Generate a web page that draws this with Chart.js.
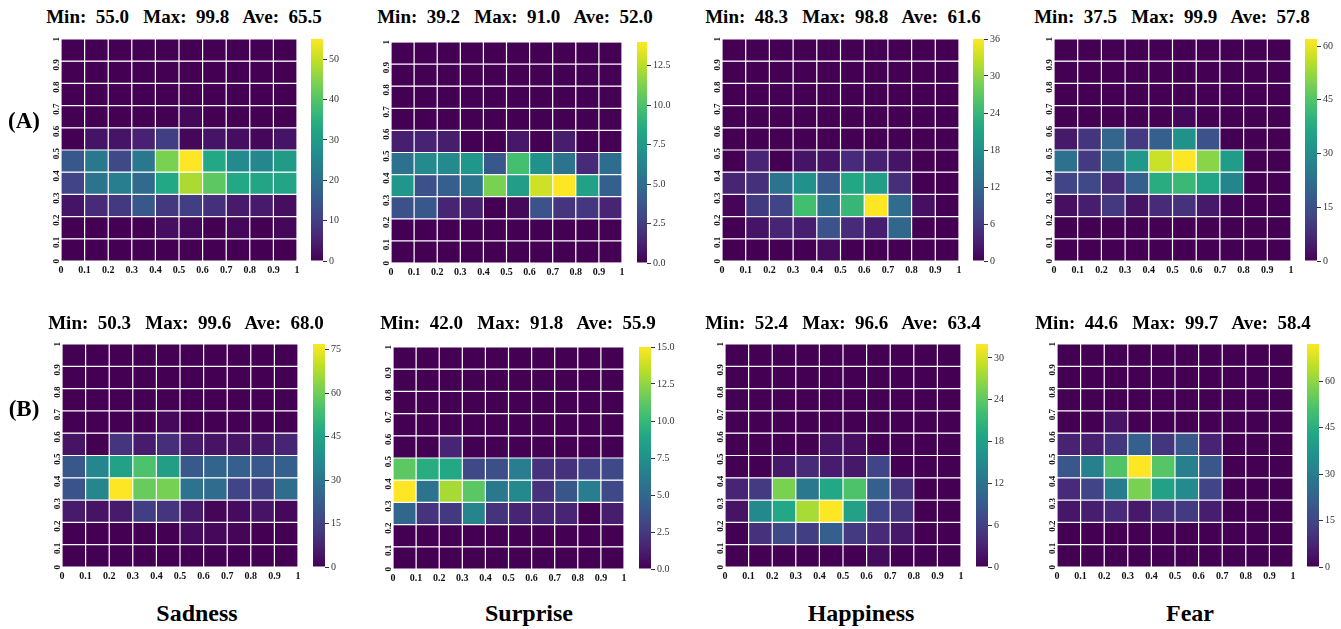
<!DOCTYPE html>
<html lang="en">
<head>
<meta charset="UTF-8">
<script src="https://cdn.jsdelivr.net/npm/chart.js"></script>
<style>
  body { margin: 0; background: #fff; }
  #page { position: relative; width: 1341px; height: 629px; overflow: hidden;
          font-family: "Liberation Serif", "Times New Roman", serif; color: #000; }
  .t { position: absolute; font-weight: bold; white-space: pre; line-height: 1;
       transform: translate(-50%, -50%); }
  .box { position: absolute; }
</style>
</head>
<body>
<div id="page"></div>
<script>
// grid edges (0 .. 1 on both axes) and their tick labels
const edges = [0, 0.1, 0.2, 0.3, 0.4, 0.5, 0.6, 0.7, 0.8, 0.9, 1];
const edgeLabels = ['0', '0.1', '0.2', '0.3', '0.4', '0.5', '0.6', '0.7', '0.8', '0.9', '1'];

const emotions = ['Sadness', 'Surprise', 'Happiness', 'Fear'];
const rowNames = ['(A)', '(B)'];

// Min / Max / Ave shown above each panel (A row, then B row)
const statMin = [55.0, 39.2, 48.3, 37.5, 50.3, 42.0, 52.4, 44.6];
const statMax = [99.8, 91.0, 98.8, 99.9, 99.6, 91.8, 96.6, 99.7];
const statAve = [65.5, 52.0, 61.6, 57.8, 68.0, 55.9, 63.4, 58.4];

// colorbar ticks per panel
const cbarTicks = [
  [0, 10, 20, 30, 40, 50],
  [0, 2.5, 5, 7.5, 10, 12.5],
  [0, 6, 12, 18, 24, 30, 36],
  [0, 15, 30, 45, 60],
  [0, 15, 30, 45, 60, 75],
  [0, 2.5, 5, 7.5, 10, 12.5, 15],
  [0, 6, 12, 18, 24, 30],
  [0, 15, 30, 45, 60]
];
const cbarDecimals = [0, 1, 0, 0, 0, 1, 0, 0];

// counts, rows listed from top (0.9-1) to bottom (0-0.1), columns 0-0.1 .. 0.9-1
const sadnessA = [
  [0, 0, 0, 0, 0, 0, 0, 0, 0, 0],
  [0, 0, 0, 0, 0, 0, 0, 0, 0, 0],
  [0, 0, 0, 0, 0, 0, 0, 0, 0, 0],
  [0, 0, 0, 0, 0, 1, 0, 0, 0, 0],
  [0, 3, 3, 5, 10, 1, 3, 2, 1, 3],
  [15, 22, 12, 22, 44, 55, 33, 26, 25, 30],
  [11, 21, 23, 19, 33, 48, 41, 33, 32, 32],
  [3, 6.5, 9, 15, 9, 10, 7.5, 4, 4, 2],
  [0, 0, 0, 0, 2, 1, 0, 1, 0, 1],
  [0, 0, 0, 0, 0, 0, 0, 0, 0, 0]
];
const surpriseA = [
  [0, 0, 0, 0, 0, 0, 0, 0, 0, 0],
  [0, 0, 0, 0, 0, 0, 0, 0, 0, 0],
  [0, 0, 0, 0, 0, 0, 0, 0, 0, 0],
  [0, 0, 0, 0, 0, 0, 0, 0, 0, 0],
  [1.2, 1.3, 1.1, 0, 0, 0.9, 0, 1.1, 0, 0],
  [5.2, 6.6, 6.6, 7.3, 3.8, 9.8, 7, 5.3, 1.7, 5],
  [7.3, 3.4, 4.2, 5.3, 11.2, 7.7, 13, 14, 8, 4.2],
  [3.4, 3.8, 1.4, 1.1, 0, 0.3, 3.5, 2.1, 2.2, 1.4],
  [0, 0, 0, 0, 0, 0, 0, 0, 0, 0],
  [0, 0, 0, 0, 0, 0, 0, 0, 0, 0]
];
const happinessA = [
  [0, 0, 0, 0, 0, 0, 0, 0, 0, 0],
  [0, 0, 0, 0, 0, 0, 0, 0, 0, 0],
  [0, 0, 0, 0, 0, 0, 0, 0, 0, 0],
  [0, 0, 0, 0, 0, 0, 0, 0, 0, 0],
  [0, 0, 0, 0, 0, 0, 0, 0, 0, 0],
  [0, 3.6, 0, 2, 2, 4.3, 3.2, 2, 0, 0],
  [3.6, 5, 13.7, 18, 10, 21.5, 20, 4.7, 0, 0],
  [0.5, 6, 7.2, 25, 13.3, 23.8, 36, 12.6, 1.4, 0],
  [0, 2, 3.6, 2.9, 9, 4.3, 2.9, 12, 0, 0],
  [0, 0, 0, 0, 1, 0, 0, 0, 0, 0]
];
const fearA = [
  [0, 0, 0, 0, 0, 0, 0, 0, 0, 0],
  [0, 0, 0, 0, 0, 0, 0, 0, 0, 0],
  [0, 0, 0, 0, 0, 0, 0, 0, 0, 0],
  [0, 0, 0, 0, 0, 1, 0, 0, 0, 0],
  [4.3, 9.3, 20, 10.5, 18.6, 31, 15.5, 0, 0, 0],
  [23, 10.5, 21.7, 33, 57, 62, 51, 34, 0, 0],
  [12.4, 13.6, 7.4, 18.6, 38.4, 41.5, 36, 28, 0, 0],
  [2.5, 5, 10, 3, 7.4, 8.7, 4.3, 0.6, 0, 0],
  [0, 0, 0, 0, 0, 0, 0, 0, 0, 0],
  [0, 0, 0, 0, 0, 0, 0, 0, 0, 0]
];
const sadnessB = [
  [0, 0, 0, 0, 0, 0, 0, 0, 0, 0],
  [0, 0, 0, 0, 0, 0, 0, 0, 0, 0],
  [0, 0, 0, 0, 0, 0, 0, 0, 0, 0],
  [0, 0, 0, 0, 1.5, 0, 0, 0, 0, 0],
  [4, 0, 11.5, 6, 10, 5.4, 4, 4, 4.6, 7.7],
  [21, 35, 44, 55, 43, 21.5, 25, 23, 21, 23],
  [20, 35, 77, 59, 61, 29, 27, 15.4, 14, 27],
  [5.4, 4, 5.4, 14, 11.5, 5.4, 1, 2.3, 4, 1.5],
  [0, 0, 0, 0, 0, 2.3, 1.5, 1, 0, 0],
  [0, 0, 0, 0, 0, 0, 0, 0, 0, 0]
];
const surpriseB = [
  [0, 0, 0, 0, 0, 0, 0, 0, 0, 0],
  [0, 0, 0, 0, 0, 0, 0, 0, 0, 0],
  [0, 0, 0, 0, 0, 0, 0, 0, 0, 0],
  [0, 0, 0, 0, 0, 0, 0, 0, 0, 0],
  [0, 0, 1.5, 0, 0, 0, 0, 0, 0, 0],
  [11.2, 9.3, 9, 3.3, 3.6, 6.3, 2.1, 2.1, 3, 3.3],
  [15, 5.7, 13, 11.1, 6, 7, 2.1, 4, 6.3, 3.3],
  [5, 2.2, 2.5, 6.7, 2.2, 1.5, 1.5, 1.5, 0, 1.2],
  [0, 0, 0, 0, 0, 0, 0, 0, 0, 0],
  [0, 0, 0, 0, 0, 0, 0, 0, 0, 0]
];
const happinessB = [
  [0, 0, 0, 0, 0, 0, 0, 0, 0, 0],
  [0, 0, 0, 0, 0, 0, 0, 0, 0, 0],
  [0, 0, 0, 0, 0, 0, 0, 0, 0, 0],
  [0, 0, 0, 0, 0, 0, 0, 0, 0, 0],
  [0, 0, 0, 0, 1.6, 1.3, 0, 0, 0, 0],
  [0, 0, 2, 3.8, 2.5, 2, 6.4, 0, 0, 0],
  [3.2, 5.4, 25.6, 12.8, 19.2, 23, 9.6, 4.8, 0, 0],
  [1.6, 15, 19.2, 27.8, 32, 18.2, 6.4, 4.8, 0, 0],
  [0, 4.5, 7, 5.8, 9.6, 5.4, 3.8, 2.2, 0, 0],
  [0, 0, 0, 0, 0, 0, 1, 0, 0, 0]
];
const fearB = [
  [0, 0, 0, 0, 0, 0, 0, 0, 0, 0],
  [0, 0, 0, 0, 0, 0, 0, 0, 0, 0],
  [0, 0, 0, 0, 0, 0, 0, 0, 0, 0],
  [0, 0, 3.6, 0, 0, 0, 0, 0, 0, 0],
  [7, 6, 11, 21.6, 11, 19.4, 7, 0, 0, 0],
  [19.4, 31, 52, 72, 52.6, 31, 19.4, 0, 0, 0],
  [8.6, 14.4, 30, 57.6, 41, 34, 14.4, 0, 0, 0],
  [4.3, 5.8, 8.6, 5, 9.4, 12.2, 5.8, 0, 0, 0],
  [0, 0, 0, 0, 0, 0, 0, 0, 0, 0],
  [0, 0, 0, 0, 0, 0, 0, 0, 0, 0]
];
const panels = [sadnessA, surpriseA, happinessA, fearA, sadnessB, surpriseB, happinessB, fearB];

// where things sit on the page: [left, top, width, height]
const heatBoxes = [
  [61, 39, 236, 222], [391, 42, 231, 221], [722, 39, 237, 222], [1054, 39, 237, 222],
  [62, 344, 236, 223], [393, 347, 231, 222], [725, 344, 236, 223], [1057, 344, 236, 223]
];
const cbarBoxes = [
  [311, 39, 12, 222], [637, 42, 10, 221], [973, 39, 11, 222], [1305, 39, 12, 222],
  [313, 344, 12, 223], [639, 347, 12, 222], [976, 344, 12, 223], [1307, 344, 12, 223]
];
const titlePos = [[184, 16], [515, 16], [843, 16], [1172, 16], [186, 322], [518, 322], [843, 322], [1173, 322]];
const emotionX = [197, 529, 861, 1190];

const FONT = '"Liberation Serif", "Times New Roman", serif';
const VIRIDIS = ['#440154', '#482475', '#414487', '#355f8d', '#2a788e', '#21918c',
                 '#22a884', '#44bf70', '#7ad151', '#bddf26', '#fde725'];

function hexRgb(c) { return [1, 3, 5].map(i => parseInt(c.substr(i, 2), 16)); }
function viridis(t) {
  t = Math.max(0, Math.min(1, t));
  const s = t * 10, i = Math.min(9, Math.floor(s)), f = s - i;
  const a = hexRgb(VIRIDIS[i]), b = hexRgb(VIRIDIS[i + 1]);
  return 'rgb(' + a.map((v, k) => Math.round(v + (b[k] - v) * f)).join(',') + ')';
}

const page = document.getElementById('page');
function addText(txt, x, y, size) {
  const d = document.createElement('div');
  d.className = 't';
  d.style.left = x + 'px';
  d.style.top = y + 'px';
  d.style.fontSize = size + 'px';
  d.textContent = txt;
  page.appendChild(d);
}
function addCanvas(left, top, w, h) {
  const c = document.createElement('canvas');
  c.className = 'box';
  c.style.left = left + 'px';
  c.style.top = top + 'px';
  c.width = w; c.height = h;
  c.style.width = w + 'px'; c.style.height = h + 'px';
  page.appendChild(c);
  return c;
}

const centers = edges.slice(0, 10).map((e, i) => (e + edges[i + 1]) / 2);
const setEdgeTicks = s => { s.ticks = edges.map(v => ({value: v})); };

panels.forEach((grid, p) => {
  const vmax = Math.max(...grid.flat());
  const [L, T, W, H] = heatBoxes[p];
  const padL = 32, padT = 12, padR = 8, padB = 24;
  const cv = addCanvas(L - padL, T - padT, W + padL + padR, H + padT + padB);

  const datasets = grid.map((row, r) => ({
    data: row.map((v, c) => ({x: centers[c], y: [edges[9 - r], edges[10 - r]]})),
    backgroundColor: row.map(v => viridis(v / vmax)),
    borderColor: '#ffffff',
    borderWidth: 0.6,
    borderSkipped: false,
    inflateAmount: 0,
    grouped: false,
    barPercentage: 1,
    categoryPercentage: 1
  }));

  new Chart(cv, {
    type: 'bar',
    data: {datasets},
    options: {
      responsive: false,
      animation: false,
      layout: {padding: {top: padT, right: padR, left: 0, bottom: 0}},
      plugins: {legend: {display: false}, tooltip: {enabled: false}},
      scales: {
        x: {
          type: 'linear', min: 0, max: 1, offset: false,
          grid: {display: false, drawTicks: false},
          border: {display: false},
          afterBuildTicks: setEdgeTicks,
          afterFit: s => { s.height = padB; },
          ticks: {
            padding: 3, color: '#111', maxRotation: 0, autoSkip: false,
            font: {family: FONT, weight: 'bold', size: 10},
            callback: (v, i) => edgeLabels[i]
          }
        },
        y: {
          type: 'linear', min: 0, max: 1,
          grid: {display: false, drawTicks: false},
          border: {display: false},
          afterBuildTicks: setEdgeTicks,
          afterFit: s => { s.width = padL; },
          ticks: {
            padding: 4, color: '#111', minRotation: 90, maxRotation: 90, autoSkip: false,
            labelOffset: -2,
            font: {family: FONT, weight: 'bold', size: 9},
            callback: (v, i) => edgeLabels[i]
          }
        }
      }
    }
  });

  // colorbar
  const [cl, ct, cw, ch] = cbarBoxes[p];
  const cPadT = 10, cPadR = 30;
  const cc = addCanvas(cl, ct - cPadT, cw + cPadR, ch + 2 * cPadT);
  const ticks = cbarTicks[p];
  new Chart(cc, {
    type: 'bar',
    data: {
      labels: [''],
      datasets: [{
        data: [[0, vmax]],
        backgroundColor: ctx => {
          const area = ctx.chart.chartArea;
          if (!area) return null;
          const g = ctx.chart.ctx.createLinearGradient(0, area.bottom, 0, area.top);
          VIRIDIS.forEach((c, i) => g.addColorStop(i / (VIRIDIS.length - 1), c));
          return g;
        },
        borderWidth: 0,
        inflateAmount: 0,
        barPercentage: 1,
        categoryPercentage: 1
      }]
    },
    options: {
      responsive: false,
      animation: false,
      layout: {padding: {top: cPadT, bottom: cPadT, left: 0, right: 0}},
      plugins: {legend: {display: false}, tooltip: {enabled: false}},
      scales: {
        x: {display: false},
        y: {
          position: 'right', min: 0, max: vmax,
          grid: {drawOnChartArea: false, drawTicks: true, tickLength: 4, color: '#333', lineWidth: 1},
          border: {display: false},
          afterBuildTicks: s => { s.ticks = ticks.map(v => ({value: v})); },
          afterFit: s => { s.width = cPadR; },
          ticks: {
            padding: 2, color: '#333', autoSkip: false,
            font: {family: FONT, size: 10},
            callback: (v, i) => ticks[i].toFixed(cbarDecimals[p])
          }
        }
      }
    }
  });

  const f = n => n.toFixed(1);
  addText('Min:  ' + f(statMin[p]) + '   Max:  ' + f(statMax[p]) + '   Ave:  ' + f(statAve[p]),
          titlePos[p][0], titlePos[p][1], 19);
});

addText(rowNames[0], 24, 120, 23);
addText(rowNames[1], 24, 408, 23);
emotions.forEach((e, i) => addText(e, emotionX[i], 613, 24));
</script>
</body>
</html>
